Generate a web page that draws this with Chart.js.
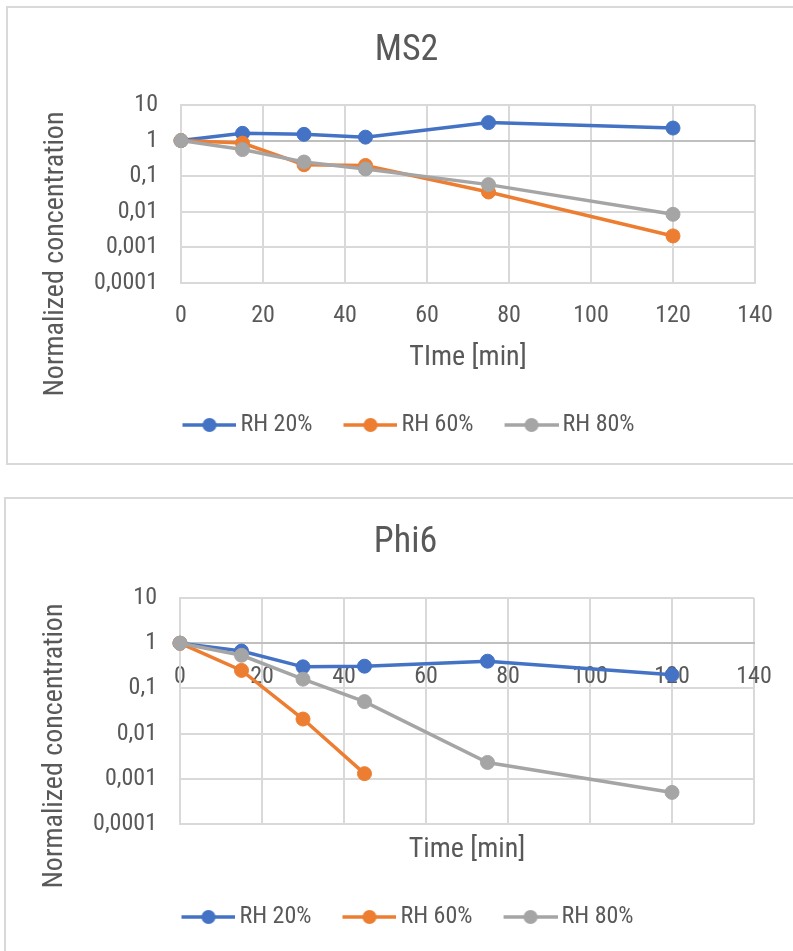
<!DOCTYPE html>
<html>
<head>
<meta charset="utf-8">
<title>Normalized concentration: MS2 and Phi6</title>
<script src="https://cdn.jsdelivr.net/npm/chart.js@4"></script>
<style>
    html, body { margin: 0; padding: 0; background: #fff; overflow: hidden; }
    body { width: 793px; height: 951px; position: relative; }
    .frame { position: absolute; border: 2px solid #d9d9d9; box-sizing: border-box; }
    canvas { position: absolute; }
</style>
</head>
<body>
<div class="frame" style="left:6px; top:6px; width:800px; height:459px"></div>
<div class="frame" style="left:4px; top:497px; width:800px; height:470px"></div>
<canvas id="ms2" width="793" height="465" style="left:0; top:0"></canvas>
<canvas id="phi6" width="793" height="465" style="left:-1px; top:492px"></canvas>
<script>
const times = [0, 15, 30, 45, 75, 120];
const seriesLabels = ['RH 20%', 'RH 60%', 'RH 80%'];
const seriesColors = ['#4472C4', '#ED7D31', '#A5A5A5'];

// MS2
const ms2Rh20 = [1, 1.6, 1.5, 1.25, 3.2, 2.25];
const ms2Rh60 = [1, 0.85, 0.21, 0.2, 0.036, 0.0021];
const ms2Rh80 = [1, 0.56, 0.25, 0.16, 0.058, 0.0085];

// Phi6 (RH 60% stops after 45 min)
const phi6Rh20 = [1, 0.67, 0.3, 0.31, 0.4, 0.2];
const phi6Rh60 = [1, 0.25, 0.021, 0.0013, null, null];
const phi6Rh80 = [1, 0.54, 0.16, 0.051, 0.0023, 0.0005];

const xTicks = [0, 20, 40, 60, 80, 100, 120, 140];
const yTicks = [0.0001, 0.001, 0.01, 0.1, 1, 10];
const yTickLabels = ['0,0001', '0,001', '0,01', '0,1', '1', '10'];

const FONT = "Roboto, 'Open Sans', sans-serif";
const STRETCH = 'condensed';
const TEXT = '#595959';
const GRID = '#d9d9d9';
const AXIS = '#bfbfbf';

// Chart.js passes weight straight into the font string, so the width keyword rides along there
Chart.defaults.font.family = FONT;
Chart.defaults.font.weight = STRETCH;
Chart.defaults.color = TEXT;

// line-with-dot legend marker, padded on the left so it sits next to its text
function legendMarker(color) {
    const c = document.createElement('canvas');
    c.width = 66;
    c.height = 16;
    const g = c.getContext('2d');
    g.strokeStyle = color;
    g.lineWidth = 3.5;
    g.beginPath();
    g.moveTo(12, 8);
    g.lineTo(66, 8);
    g.stroke();
    g.fillStyle = color;
    g.beginPath();
    g.arc(39, 8, 7, 0, Math.PI * 2);
    g.fill();
    return c;
}
const markers = seriesColors.map(legendMarker);

// rotated y axis title, placed independently of the plot height
const yTitlePlugin = {
    id: 'yTitle',
    afterDraw(chart, args, opts) {
        const ctx = chart.ctx;
        ctx.save();
        ctx.translate(opts.x, opts.y);
        ctx.rotate(-Math.PI / 2);
        ctx.font = `${STRETCH} ${opts.size}px ${FONT}`;
        ctx.fillStyle = TEXT;
        ctx.textAlign = 'center';
        ctx.textBaseline = 'middle';
        ctx.fillText(opts.text, 0, 0);
        ctx.restore();
    }
};

function makeDatasets(series) {
    // gray on top, blue at the bottom
    return series.map((values, i) => ({
        label: seriesLabels[i],
        data: times.map((t, j) => ({ x: t, y: values[j] })),
        borderColor: seriesColors[i],
        backgroundColor: seriesColors[i],
        pointBackgroundColor: seriesColors[i],
        pointBorderColor: seriesColors[i],
        borderWidth: 3.5,
        pointRadius: 7,
        pointHoverRadius: 7,
        pointBorderWidth: 1,
        tension: 0,
        clip: false,
        order: series.length - i
    }));
}

function makeChart(id, title, xTitle, series, axisAtOne, titleGap) {
    const xScale = {
        type: 'linear',
        min: 0,
        max: 140,
        position: axisAtOne ? { y: 1 } : 'bottom',
        afterBuildTicks: s => { s.ticks = xTicks.map(v => ({ value: v })); },
        ticks: { font: { size: 24 }, color: TEXT, padding: 19, maxRotation: 0, autoSkip: false },
        grid: { color: GRID, lineWidth: 2, drawTicks: false },
        border: { color: axisAtOne ? AXIS : GRID, width: 2 }
    };

    const scales = {
        x: xScale,
        y: {
            type: 'logarithmic',
            min: 0.0001,
            max: 10,
            afterBuildTicks: s => { s.ticks = yTicks.map(v => ({ value: v })); },
            afterFit: s => { s.width = 161; },
            ticks: {
                font: { size: 24 },
                color: TEXT,
                padding: 23,
                callback: v => yTickLabels[yTicks.indexOf(v)]
            },
            grid: {
                color: c => (c.tick && c.tick.value === 1 ? AXIS : GRID),
                lineWidth: 2,
                drawTicks: false
            },
            border: { color: GRID, width: 2 }
        },
        yr: {
            type: 'linear',
            position: 'right',
            axis: 'y',
            ticks: { display: false },
            grid: { display: false },
            border: { display: false },
            afterFit: s => { s.width = 38; }
        }
    };

    const xTitleOpts = {
        display: true,
        text: xTitle,
        font: { size: 28 },
        color: TEXT,
        padding: { top: 0, bottom: 11 }
    };

    if (axisAtOne) {
        // axis sits on the 1 line, so the title gets its own bottom scale
        scales.xt = {
            type: 'linear',
            axis: 'x',
            position: 'bottom',
            min: 0,
            max: 140,
            ticks: { display: false },
            grid: { display: false },
            border: { display: false },
            title: xTitleOpts,
            afterFit: s => { s.height = 54; }
        };
    } else {
        xScale.title = xTitleOpts;
        xScale.afterFit = s => { s.height = 103; };
    }

    return new Chart(document.getElementById(id), {
        type: 'line',
        data: { datasets: makeDatasets(series) },
        plugins: [yTitlePlugin],
        options: {
            responsive: false,
            animation: false,
            events: [],
            layout: { padding: { left: 20, right: 0, top: 0, bottom: 18 } },
            scales,
            plugins: {
                title: {
                    display: true,
                    text: title,
                    color: TEXT,
                    font: { size: 36, weight: STRETCH },
                    padding: { top: 29.4, bottom: titleGap }
                },
                legend: {
                    position: 'bottom',
                    labels: {
                        usePointStyle: true,
                        pointStyleWidth: 50,
                        padding: 27,
                        color: TEXT,
                        font: { size: 24 },
                        sort: (a, b) => a.datasetIndex - b.datasetIndex,
                        generateLabels(chart) {
                            const items = Chart.defaults.plugins.legend.labels.generateLabels(chart);
                            items.forEach(item => { item.pointStyle = markers[item.datasetIndex]; });
                            return items;
                        }
                    }
                },
                tooltip: { enabled: false },
                yTitle: { text: 'Normalized concentration', x: 56, y: 254, size: 28 }
            }
        }
    });
}

makeChart('ms2', 'MS2', 'TIme [min]', [ms2Rh20, ms2Rh60, ms2Rh80], false, 32.4);
makeChart('phi6', 'Phi6', 'Time [min]', [phi6Rh20, phi6Rh60, phi6Rh80], true, 33.4);
</script>
</body>
</html>
